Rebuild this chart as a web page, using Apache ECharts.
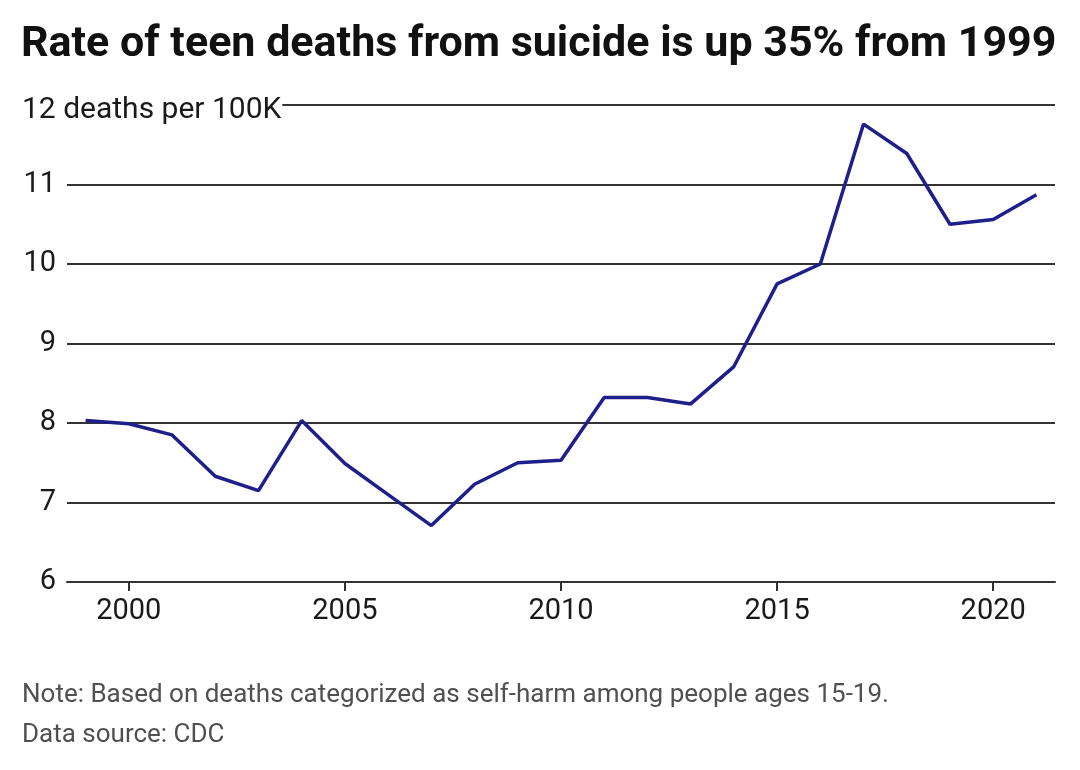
<!DOCTYPE html>
<html>
<head>
<meta charset="utf-8">
<script src="https://cdn.jsdelivr.net/npm/echarts@6/dist/echarts.min.js"></script>
<style>
  html, body { margin: 0; padding: 0; background: #fff; }
  #chart { width: 1080px; height: 770px; }
</style>
</head>
<body>
<div id="chart"></div>
<script>
const years = [1999, 2000, 2001, 2002, 2003, 2004, 2005, 2006, 2007, 2008, 2009, 2010,
               2011, 2012, 2013, 2014, 2015, 2016, 2017, 2018, 2019, 2020, 2021];
const rates = [8.03, 7.99, 7.85, 7.33, 7.15, 8.03, 7.49, 7.10, 6.71, 7.23, 7.50, 7.53,
               8.32, 8.32, 8.24, 8.71, 9.75, 10.0, 11.76, 11.39, 10.50, 10.56, 10.87];
const xTicks = [2000, 2005, 2010, 2015, 2020];
const yTicks = [6, 7, 8, 9, 10, 11, 12];
const titleText = 'Rate of teen deaths from suicide is up 35% from 1999';
const unitLabel = '12 deaths per 100K';
const noteText = 'Note: Based on deaths categorized as self-harm among people ages 15-19.';
const sourceText = 'Data source: CDC';

const FONT = 'Roboto, "Noto Sans", sans-serif';
const chart = echarts.init(document.getElementById('chart'), null, { renderer: 'canvas' });

chart.setOption({
  backgroundColor: '#ffffff',
  animation: false,
  grid: { left: 67, right: 25, top: 105, bottom: 188, containLabel: false },
  xAxis: {
    type: 'value',
    min: 1998.57,
    max: 2021.43,
    axisLine: { show: true, lineStyle: { color: '#333333', width: 2 } },
    axisTick: { show: true, customValues: xTicks, length: 9, lineStyle: { color: '#333333', width: 2 } },
    axisLabel: {
      customValues: xTicks,
      fontFamily: FONT, fontSize: 29, color: '#1a1a1a', margin: 15,
      formatter: v => String(v)
    },
    splitLine: { show: false }
  },
  yAxis: {
    type: 'value',
    min: yTicks[0],
    max: yTicks[yTicks.length - 1],
    interval: 1,
    axisLine: { show: false },
    axisTick: { show: false },
    axisLabel: {
      fontFamily: FONT, fontSize: 29, color: '#1a1a1a', margin: 11,
      formatter: v => (v === yTicks[yTicks.length - 1] ? '' : String(v))
    },
    splitLine: { show: true, lineStyle: { color: '#333333', width: 2 } }
  },
  graphic: [
    {
      type: 'text', x: 21, y: 45, z: 100,
      style: {
        text: titleText, fontFamily: FONT, fontSize: 43, fontWeight: 'bold', fill: '#111111',
        verticalAlign: 'middle'
      }
    },
    {
      type: 'text', x: 22, y: 110, z: 100,
      style: {
        text: unitLabel, fontFamily: FONT, fontSize: 30, fill: '#1a1a1a',
        verticalAlign: 'middle', backgroundColor: '#ffffff', padding: [0, 1, 0, 0]
      }
    },
    {
      type: 'text', x: 22, y: 695,
      style: { text: noteText, fontFamily: FONT, fontSize: 26, fill: '#505050', verticalAlign: 'middle' }
    },
    {
      type: 'text', x: 22, y: 735,
      style: { text: sourceText, fontFamily: FONT, fontSize: 26, fill: '#505050', verticalAlign: 'middle' }
    }
  ],
  series: [{
    type: 'line',
    data: years.map((y, i) => [y, rates[i]]),
    showSymbol: false,
    lineStyle: { color: '#1f1f8c', width: 3.5 },
    itemStyle: { color: '#1f1f8c' }
  }]
});
</script>
</body>
</html>
